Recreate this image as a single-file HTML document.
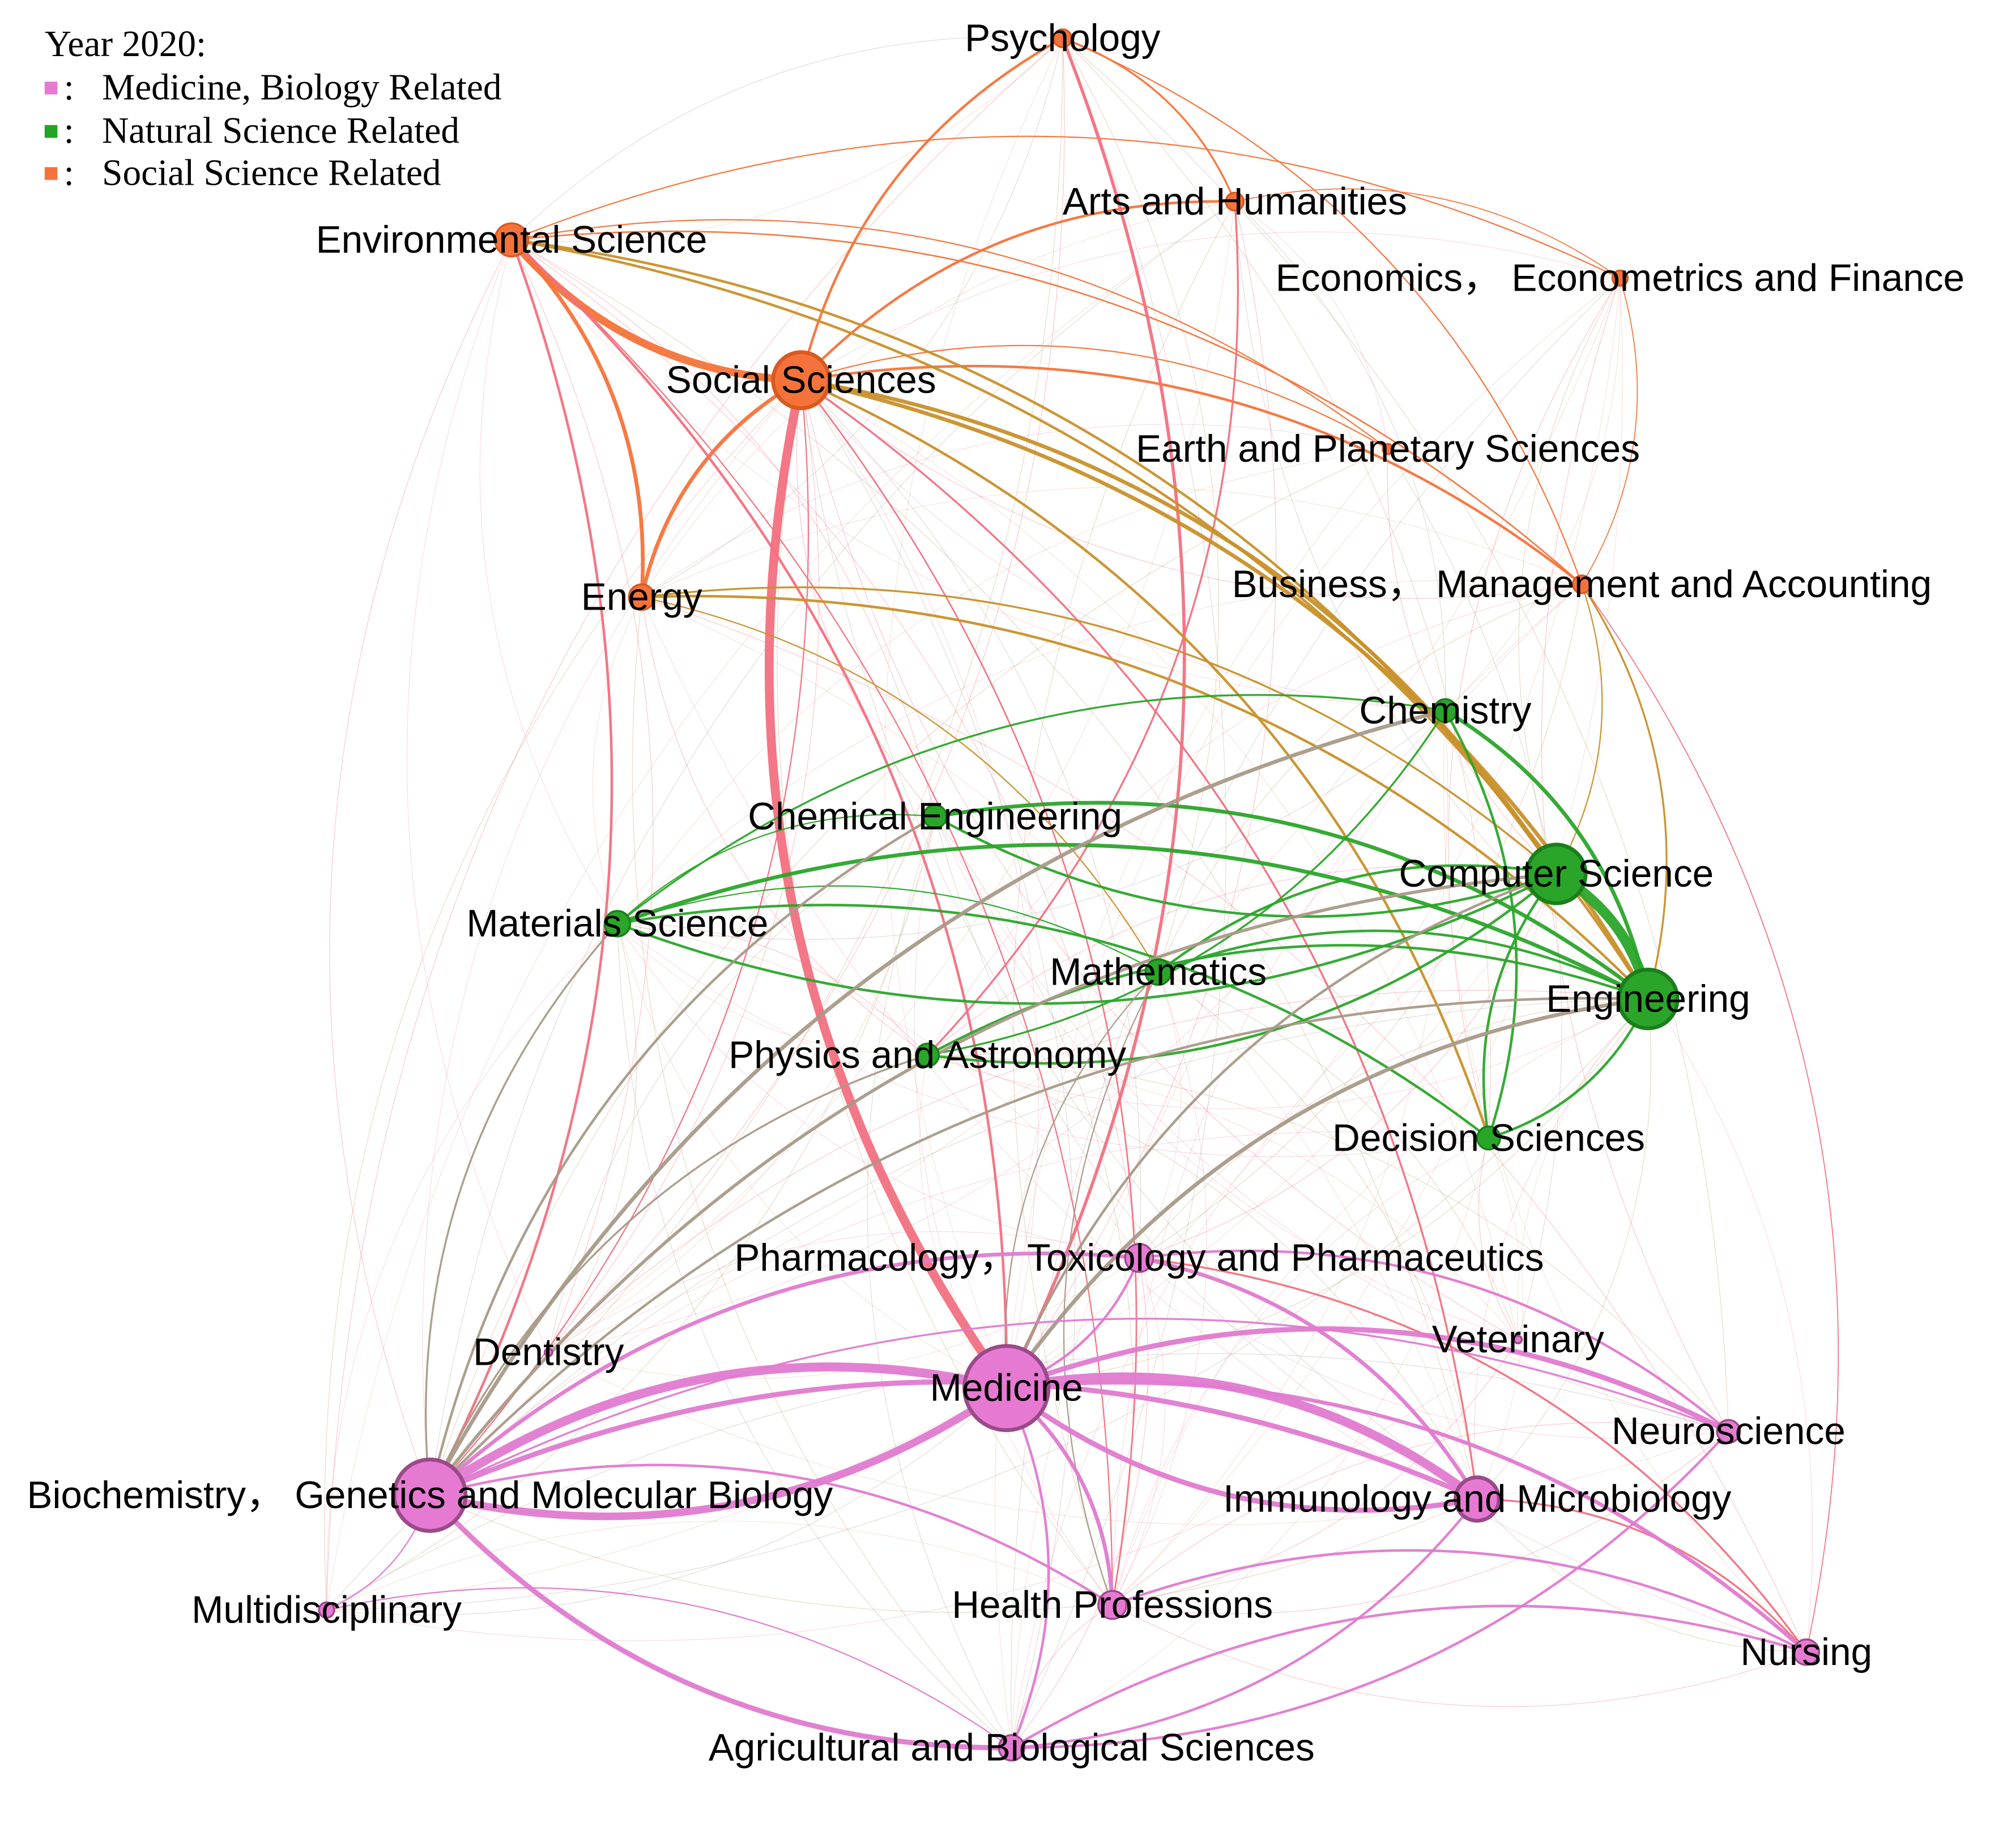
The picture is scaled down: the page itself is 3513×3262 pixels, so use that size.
<!DOCTYPE html>
<html><head><meta charset="utf-8"><style>
html,body{margin:0;padding:0;background:#fff;}
svg{display:block;}
.lb{font-family:"Liberation Sans",sans-serif;font-size:30px;fill:#000;}
.lg{font-family:"Liberation Serif",serif;font-size:29px;fill:#000;}
</style></head><body>
<svg id="s" xmlns="http://www.w3.org/2000/svg" width="3513" height="3262" viewBox="0 0 1560 1448.5">
<rect width="1560" height="1449" fill="#fff"/>
<g id="edges" fill="none" stroke-linecap="round"></g>
<g id="nodes"></g>
<g id="labels"></g>
<text class="lg" x="35" y="44">Year 2020:</text>
<rect x="35" y="64" width="10" height="10" fill="#e67ad2"/><text class="lg" x="50" y="78">:</text><text class="lg" x="80" y="78">Medicine, Biology Related</text>
<rect x="35" y="98" width="10" height="10" fill="#22a323"/><text class="lg" x="50" y="112">:</text><text class="lg" x="80" y="112">Natural Science Related</text>
<rect x="35" y="131" width="10" height="10" fill="#f5733a"/><text class="lg" x="50" y="145">:</text><text class="lg" x="80" y="145">Social Science Related</text>
</svg>
<script>
const N={
psy:[833,30,7,'o','Psychology'],
art:[968,158,7,'o','Arts and Humanities'],
eco:[1270,218,6,'o','Economics，  Econometrics and Finance'],
env:[401,188,13,'o','Environmental Science'],
soc:[628,298,22,'o','Social Sciences'],
ear:[1088,352,4,'o','Earth and Planetary Sciences'],
ene:[503,468,10,'o','Energy'],
bus:[1240,458,7,'o','Business，  Management and Accounting'],
che:[1133,557,9,'g','Chemistry'],
cen:[733,640,9,'g','Chemical Engineering'],
cs:[1220,685,23,'g','Computer Science'],
mat:[484,724,10,'g','Materials Science'],
mth:[908,762,10,'g','Mathematics'],
eng:[1292,783,23,'g','Engineering'],
phy:[727,827,9,'g','Physics and Astronomy'],
dec:[1167,892,9,'g','Decision Sciences'],
pha:[893,986,11,'p','Pharmacology，  Toxicology and Pharmaceutics'],
den:[430,1060,3,'p','Dentistry'],
vet:[1190,1050,3,'p','Veterinary'],
med:[789,1088,33,'p','Medicine'],
neu:[1355,1122,9,'p','Neuroscience'],
imm:[1158,1175,17,'p','Immunology and Microbiology'],
bio:[337,1172,28,'p','Biochemistry，  Genetics and Molecular Biology'],
mul:[256,1262,6,'p','Multidisciplinary'],
hea:[872,1258,11,'p','Health Professions'],
nur:[1416,1295,10,'p','Nursing'],
agr:[793,1370,10,'p','Agricultural and Biological Sciences']};
const C={o:'#f5733a',r:'#f27080',y:'#c8902a',g:'#2aa52a',b:'#a89a88',p:'#e07ad0'};
const E=[
['soc','env',6,'o'],['env','ene',3,'o'],['ene','soc',3,'o'],['soc','psy',2,'o'],['soc','art',2,'o'],['soc','bus',2,'o'],['env','eco',1,'o'],['env','ear',1,'o'],['psy','art',1.5,'o'],['psy','bus',1,'o'],['env','bus',1.2,'o'],['soc','ear',1,'o'],['art','eco',0.8,'o'],['eco','bus',0.8,'o'],
['med','soc',7,'r'],['psy','med',2.5,'r'],['env','bio',2,'r'],['env','med',2,'r'],['art','phy',1.5,'r'],['soc','imm',1.5,'r'],['soc','hea',1.2,'r'],['soc','bio',1,'r'],['env','hea',1,'r'],['bus','nur',0.8,'r'],['pha','nur',1.5,'r'],['imm','nur',1.5,'r'],
['soc','cs',3,'y'],['soc','eng',3,'y'],['env','cs',2,'y'],['env','eng',2,'y'],['ene','eng',2,'y'],['ene','cs',1.5,'y'],['soc','dec',2,'y'],['bus','eng',1.5,'y'],['bus','cs',1,'y'],['ene','mth',1,'y'],
['cs','eng',8,'g'],['che','eng',3,'g'],['cen','eng',3,'g'],['cs','cen',2,'g'],['mat','eng',3,'g'],['cs','mat',2,'g'],['mth','cs',2,'g'],['mth','eng',2,'g'],['cs','phy',2,'g'],['phy','eng',2,'g'],['mat','che',1.5,'g'],['che','phy',1.5,'g'],['dec','cs',2,'g'],['eng','dec',2,'g'],['mat','dec',2,'g'],['che','dec',2,'g'],['mat','cen',1,'g'],['mat','mth',1,'g'],
['bio','che',3,'b'],['bio','cs',2.5,'b'],['bio','eng',2,'b'],['med','eng',3,'b'],['med','cs',2,'b'],['bio','cen',2,'b'],['bio','mat',1.5,'b'],['bio','phy',1.5,'b'],['med','mth',1,'b'],['hea','mth',1,'b'],
['bio','med',7,'p'],['med','bio',6,'p'],['med','imm',7,'p'],['imm','med',4,'p'],['bio','imm',4,'p'],['agr','bio',4,'p'],['med','neu',4,'p'],['med','nur',3,'p'],['med','hea',3,'p'],['pha','imm',3,'p'],['bio','pha',3,'p'],['pha','neu',2,'p'],['med','agr',2,'p'],['imm','agr',2,'p'],['hea','nur',2,'p'],['neu','agr',2,'p'],['agr','nur',2,'p'],['bio','hea',2,'p'],['mul','agr',1,'p'],['bio','mul',1,'p'],['pha','med',2,'p'],['bio','neu',1.5,'p']];
const keys=Object.keys(N);
let h='';
function path(a,b,w,col,op){const A=N[a],B=N[b];const dx=B[0]-A[0],dy=B[1]-A[1];const cx=(A[0]+B[0])/2+dy*0.22,cy=(A[1]+B[1])/2-dx*0.22;
h+=`<path d="M${A[0]} ${A[1]} Q${cx.toFixed(1)} ${cy.toFixed(1)} ${B[0]} ${B[1]}" stroke="${col}" stroke-width="${w}" opacity="${op}"/>`;}
let seed=7;function rnd(){seed=(seed*9301+49297)%233280;return seed/233280;}
const fc=['#f27080','#e8b8a0','#c8a070','#f0a0c0','#b0a898'];
for(let i=0;i<keys.length;i++)for(let j=0;j<keys.length;j++){if(i!==j&&rnd()<0.22)path(keys[i],keys[j],0.6,fc[Math.floor(rnd()*5)],0.35);}
E.forEach(e=>path(e[0],e[1],e[2],C[e[3]],0.95));
document.getElementById('edges').innerHTML=h;
const NF={o:['#f5733a','#d85a20'],g:['#2aa52a','#1a7f1a'],p:['#e67ad2','#9a4a88']};
let n='',l='';
for(const k of keys){const v=N[k];n+=`<circle cx="${v[0]}" cy="${v[1]}" r="${v[2]}" fill="${NF[v[3]][0]}" stroke="${NF[v[3]][1]}" stroke-width="${v[2]>15?3:1.5}"/>`;
l+=`<text class="lb" x="${v[0]}" y="${v[1]+10}" text-anchor="middle">${v[4]}</text>`;}
document.getElementById('nodes').innerHTML=n;document.getElementById('labels').innerHTML=l;
</script>
</body></html>
